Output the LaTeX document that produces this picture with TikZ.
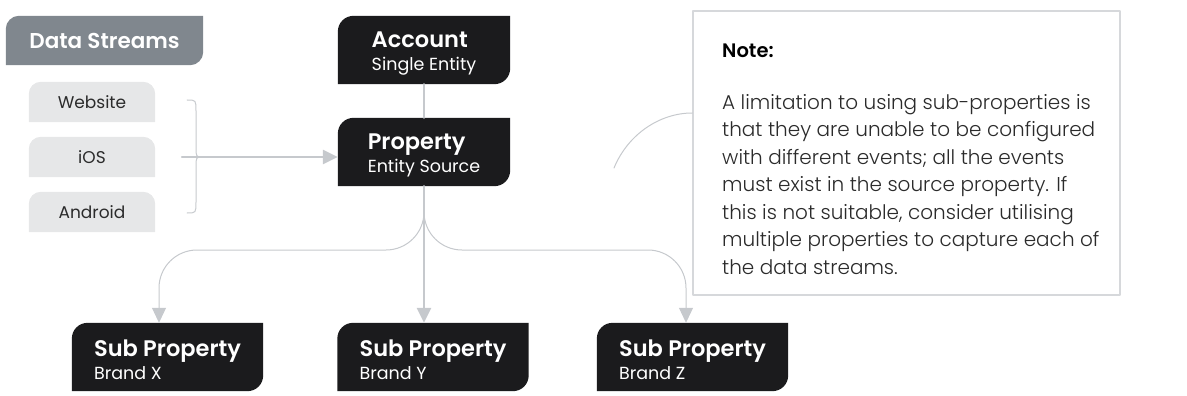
\documentclass[tikz,border=0pt]{standalone}
\usepackage{fontspec}
\setmainfont{Poppins}
\IfFontExistsTF{Poppins Light}{\newfontfamily\lightfont{Poppins Light}}{\newfontfamily\lightfont{Poppins}}
\IfFontExistsTF{Poppins SemiBold}{\newfontfamily\semifont{Poppins SemiBold}}{\newcommand\semifont{\bfseries}}
\usetikzlibrary{positioning,arrows.meta,backgrounds}

\definecolor{ink}{HTML}{1B1B1D}
\definecolor{streamgray}{HTML}{80878E}
\definecolor{chipgray}{HTML}{E6E7E8}
\definecolor{wire}{HTML}{C6C9CD}
\definecolor{notegray}{HTML}{D6D8DB}
\definecolor{bodytext}{HTML}{2B2B2B}

\newcommand\entitytext[2]{\rule{0pt}{23pt}{\semifont\fontsize{22.5}{23}\selectfont #1}\\#2}

\begin{document}
\begin{tikzpicture}[x=1pt, y=-1pt, line join=round, line cap=round, >={Triangle[width=14pt,length=15pt]},
	entity/.style={text=white, align=left, inner sep=0, minimum width=172, minimum height=68, font=\fontsize{17.5}{23}\selectfont},
	subentity/.style={entity, minimum width=191},
	chip/.style={inner sep=0, minimum width=126, minimum height=40, text=bodytext, font=\fontsize{17}{20}\selectfont},
	stem/.style={draw=wire, line width=2.5pt},
	branch/.style={draw=wire, line width=1pt, rounded corners=38pt}]
	\useasboundingbox (0,0) rectangle (1187,396);

	% sources on the left
	\node[inner sep=0, minimum width=197, minimum height=49, text=white, font=\semifont\fontsize{21.5}{24}\selectfont] (streams) at (104.5,40.5) {Data Streams};
	\node[chip] (web) at (92,102) {Website};
	\node[chip] (ios) at (92,157) {iOS};
	\node[chip] (android) at (92,212) {Android};

	% hierarchy
	\node[entity] (acct) at (424,50) {\entitytext{Account}{Single Entity}};
	\node[entity] (prop) at (424,152) {\entitytext{Property}{Entity Source}};
	\node[subentity] (subx) at (167.5,357) {\entitytext{Sub Property}{Brand X}};
	\node[subentity] (suby) at (433,357) {\entitytext{Sub Property}{Brand Y}};
	\node[subentity] (subz) at (692.5,357) {\entitytext{Sub Property}{Brand Z}};

	% box shapes: top left and bottom right corners rounded
	\begin{scope}[on background layer]
		\foreach \n in {acct,prop,subx,suby,subz}
			\fill[ink] (\n.south west) -- ([yshift=-16pt]\n.north west)
				.. controls ([yshift=-7pt]\n.north west) and ([xshift=7pt]\n.north west) .. ([xshift=16pt]\n.north west)
				-- (\n.north east) -- ([yshift=16pt]\n.south east)
				.. controls ([yshift=7pt]\n.south east) and ([xshift=-7pt]\n.south east) .. ([xshift=-16pt]\n.south east) -- cycle;
		\fill[streamgray] (streams.south west) -- ([yshift=-13pt]streams.north west)
			.. controls ([yshift=-6pt]streams.north west) and ([xshift=6pt]streams.north west) .. ([xshift=13pt]streams.north west)
			-- (streams.north east) -- ([yshift=13pt]streams.south east)
			.. controls ([yshift=6pt]streams.south east) and ([xshift=-6pt]streams.south east) .. ([xshift=-13pt]streams.south east) -- cycle;
		\foreach \n in {web,ios,android}
			\fill[chipgray] (\n.south west) -- ([yshift=-12pt]\n.north west)
				.. controls ([yshift=-5.4pt]\n.north west) and ([xshift=5.4pt]\n.north west) .. ([xshift=12pt]\n.north west)
				-- ([xshift=-12pt]\n.north east)
				.. controls ([xshift=-5.4pt]\n.north east) and ([yshift=-5.4pt]\n.north east) .. ([yshift=-12pt]\n.north east)
				-- (\n.south east) -- cycle;
	\end{scope}

	% brace and feed into the property
	\draw[wire, line width=1pt] (187,100) .. controls (196,100) .. (196,111) -- (196,147)
		.. controls (196,157) .. (203,157) .. controls (196,157) .. (196,167) -- (196,202)
		.. controls (196,213) .. (187,213);
	\coordinate (feed) at (182,157);
	\draw[stem,->] (feed) -- (feed -| prop.west);

	\draw[stem] (acct.south) -- (prop.north);
	\draw[stem,->] (prop.south) -- (suby.north -| prop.south);
	\coordinate (split) at (prop.south |- 0,250);
	\draw[branch,->] (prop.south) -- (split) -| ([xshift=-8.5pt]subx.north);
	\draw[branch,->] (prop.south) -- (split) -| ([xshift=-6.5pt]subz.north);

	% note
	\node[draw=notegray, line width=1.5pt, fill=white, minimum width=427, minimum height=284] (note) at (906.5,153) {};
	\draw[wire, line width=1pt] (614,168) .. controls (628,134) and (660,113) .. (note.west |- 0,113);
	\node[anchor=west, inner sep=0, font=\semifont\fontsize{19.5}{22}\selectfont] (notehead) at (722,51) {Note:};
	\node[anchor=north west, align=left, inner sep=0, text=bodytext, font=\lightfont\fontsize{20}{27.5}\selectfont] (notebody) at (722,94) {A limitation to using sub-properties is\\
		that they are unable to be configured\\
		with different events; all the events\\
		must exist in the source property. If\\
		this is not suitable, consider utilising\\
		multiple properties to capture each of\\
		the data streams.};
\end{tikzpicture}
\end{document}
